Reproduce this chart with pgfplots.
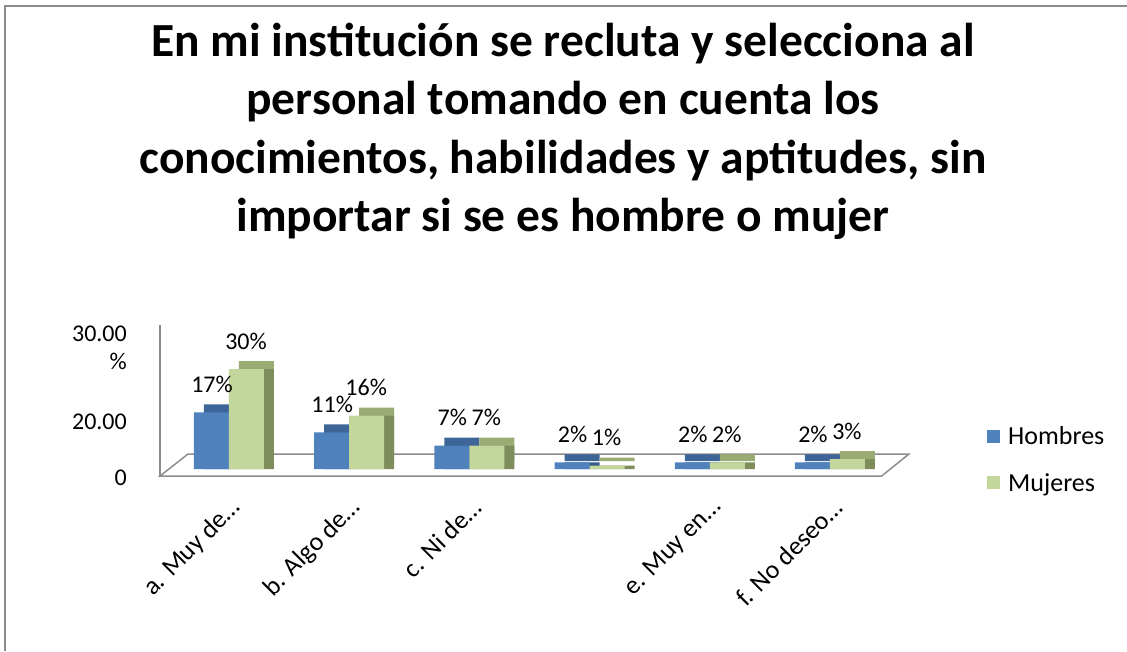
\documentclass[border=0pt]{standalone}
\usepackage{fontspec}
\setmainfont{Carlito}
\usepackage{pgfplots}
\pgfplotsset{compat=1.18}

\definecolor{hFront}{HTML}{4F81BD}
\definecolor{hTop}{HTML}{3D6597}
\definecolor{hSide}{HTML}{335A88}
\definecolor{mFront}{HTML}{C3D69B}
\definecolor{mTop}{HTML}{9BAB74}
\definecolor{mSide}{HTML}{7F8C5C}
\definecolor{frame}{HTML}{8C8C8C}

\newcommand{\lbl}{\fontsize{24}{28}\selectfont}
\newcommand{\lblb}{\fontsize{26}{30}\selectfont}

\begin{document}
\begin{tikzpicture}
\useasboundingbox (0,0) rectangle (1127pt,651pt);
\draw[frame, line width=1.5pt] (5pt,0) -- (5pt,645pt) -- (1127pt,645pt);

% title, one node per line
\begin{scope}[every node/.style={anchor=base, inner sep=0pt, font=\fontsize{47.5}{58}\selectfont\bfseries}]
\node at (563pt,594pt) {En mi institución se recluta y selecciona al};
\node at (563pt,536pt) {personal tomando en cuenta los};
\node at (563pt,477pt) {conocimientos, habilidades y aptitudes, sin};
\node at (563pt,419pt) {importar si se es hombre o mujer};
\end{scope}

\begin{axis}[
  at={(160pt,175pt)}, anchor=south west,
  scale only axis, width=749.3pt, height=150.85pt,
  xmin=-0.574, xmax=5.66, ymin=-2.1, ymax=43.2,
  clip=false,
  axis line style={draw=none}, major tick length=0pt,
  /pgf/number format/assume math mode=true,
  xtick={0,...,5},
  xticklabels={a. Muy de…, b. Algo de…, c. Ni de…, , e. Muy en…, f. No deseo…},
  xticklabel style={font=\lblb, rotate=45, anchor=east, inner sep=0pt, xshift=-14pt, yshift=-25pt},
  ytick={0,20,30},
  yticklabel={\ifcase\ticknum\smash{\raisebox{-16.7pt}{0}}\hspace{-8pt}\or\smash{\raisebox{-26.7pt}{20.00}}\or\smash{\raisebox{0pt}{\begin{tabular}[b]{@{}r@{}}30.00\\\%\end{tabular}}}\fi},
  yticklabel style={font=\lbl, anchor=east, inner sep=0pt, xshift=-33pt},
  legend style={at={(1.0997,0.109)}, anchor=west, draw=none, fill=none,
                font=\lblb, row sep=23pt, cells={anchor=west},
                /tikz/every odd column/.append style={column sep=6pt}},
]
% floor and wall edge
\draw[frame, line width=1.5pt] (axis cs:-0.574,43.2) -- (axis cs:-0.574,-2.1);
\draw[frame, line width=1.5pt] (axis cs:-0.574,-2.1) -- (axis cs:5.43,-2.1)
  -- (axis cs:5.657,4.5) -- (axis cs:-0.341,4.5) -- cycle;

% Hombres
\addplot[ybar, bar width=35pt, bar shift=-17.5pt, fill=hTop, draw=none,
  xshift=10pt, yshift=8pt, forget plot]
  coordinates {(0,17) (1,11) (2,7) (3,2) (4,2) (5,2)};
\addplot[ybar, bar width=35pt, bar shift=-17.5pt, fill=hSide, draw=none,
  xshift=10pt, forget plot]
  coordinates {(0,17) (1,11) (2,7) (3,2) (4,2) (5,2)};
\addplot[ybar, bar width=35pt, bar shift=-17.5pt, fill=hFront, draw=none,
  point meta=y, nodes near coords={\pgfmathprintnumber{\pgfplotspointmeta}\%},
  nodes near coords style={font=\lbl, anchor=center, inner sep=0pt, xshift=-17pt, yshift=28pt},
  legend image code/.code={\fill[hFront] (0pt,-6.5pt) rectangle (13pt,6.5pt);}]
  coordinates {(0,17) (1,11) (2,7) (3,2) (4,2) (5,2)};
\addlegendentry{Hombres}

% Mujeres
\addplot[ybar, bar width=35pt, bar shift=17.5pt, fill=mTop, draw=none,
  xshift=10pt, yshift=8pt, forget plot]
  coordinates {(0,30) (1,16) (2,7) (3,1) (4,2) (5,3)};
\addplot[ybar, bar width=35pt, bar shift=17.5pt, fill=mSide, draw=none,
  xshift=10pt, forget plot]
  coordinates {(0,30) (1,16) (2,7) (3,1) (4,2) (5,3)};
\addplot[ybar, bar width=35pt, bar shift=17.5pt, fill=mFront, draw=none,
  point meta=y, nodes near coords={\pgfmathprintnumber{\pgfplotspointmeta}\%},
  nodes near coords style={font=\lbl, anchor=center, inner sep=0pt, xshift=17pt, yshift=28pt},
  legend image code/.code={\fill[mFront] (0pt,-6.5pt) rectangle (13pt,6.5pt);}]
  coordinates {(0,30) (1,16) (2,7) (3,1) (4,2) (5,3)};
\addlegendentry{Mujeres}
\end{axis}
\end{tikzpicture}
\end{document}
